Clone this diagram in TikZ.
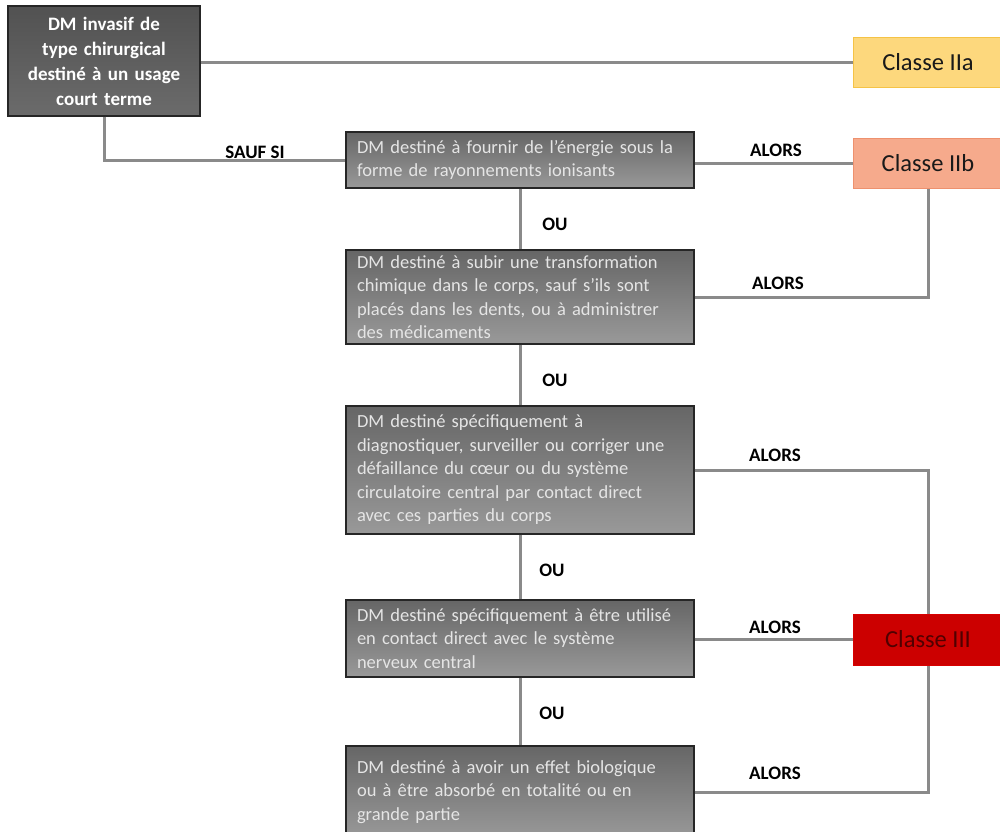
\documentclass[tikz,border=0pt]{standalone}
\usepackage{fontspec}
\setmainfont{Carlito}
\begin{document}
\begin{tikzpicture}[x=1pt,y=-1pt,
  dmbox/.style={draw=black!85,line width=1.3pt,top color=black!60,bottom color=black!40,
    text=white!90!black,font=\fontsize{18.5}{23.5}\selectfont,align=left,
    text width=326pt,inner xsep=11pt,inner ysep=0pt,minimum width=348pt},
  rootbox/.style={draw=black!85,line width=1.3pt,top color=black!68,bottom color=black!58,
    text=white,font=\bfseries\fontsize{19}{25}\selectfont,align=center,
    text width=186pt,inner sep=0pt,minimum width=192pt,minimum height=110pt},
  classbox/.style={line width=1pt,minimum width=150pt,minimum height=50pt,inner sep=0pt,
    font=\fontsize{24.5}{26}\selectfont},
  conn/.style={draw=black!46,line width=3pt},
  lbl/.style={font=\bfseries\fontsize{19}{22}\selectfont,text=black,inner sep=0pt}]
\clip (0,0) rectangle (1000,831);
\fill[white] (0,0) rectangle (1000,831);
\node[rootbox] (root) at (104,61) {DM invasif de\\type chirurgical\\destiné à un usage\\court terme};
\node[classbox,draw={rgb,255:red,245;green,195;blue,70},fill={rgb,255:red,253;green,216;blue,125},text=black!90] (c2a) at (928,62) {Classe IIa};
\node[classbox,draw={rgb,255:red,238;green,145;blue,110},fill={rgb,255:red,246;green,170;blue,140},text=black!90] (c2b) at (928,163) {Classe IIb};
\node[classbox,draw={rgb,255:red,215;green,0;blue,0},fill={rgb,255:red,204;green,0;blue,0},text={rgb,255:red,80;green,0;blue,0},minimum height=51pt] (c3) at (928,639.5) {Classe III};
\node[dmbox,minimum height=56pt] (b1) at (520,160) {DM destiné à fournir de l'énergie sous la\\forme de rayonnements ionisants};
\node[dmbox,minimum height=94pt] (b2) at (520,297) {DM destiné à subir une transformation\\chimique dans le corps, sauf s'ils sont\\placés dans les dents, ou à administrer\\des médicaments};
\node[dmbox,minimum height=128pt] (b3) at (520,470) {DM destiné spécifiquement à\\diagnostiquer, surveiller ou corriger une\\défaillance du cœur ou du système\\circulatoire central par contact direct\\avec ces parties du corps};
\node[dmbox,minimum height=77pt] (b4) at (520,638.5) {DM destiné spécifiquement à être utilisé\\en contact direct avec le système\\nerveux central};
\node[dmbox,minimum height=92pt] (b5) at (520,792) {DM destiné à avoir un effet biologique\\ou à être absorbé en totalité ou en\\grande partie};
\draw[conn] (root.east |- c2a.west) -- (c2a.west);
\draw[conn] (root.south) |- (b1.west);
\draw[conn] (b1.east |- c2b.west) -- (c2b.west);
\draw[conn] (b1.south) -- (b2.north);
\draw[conn] (b2.south) -- (b3.north);
\draw[conn] (b3.south) -- (b4.north);
\draw[conn] (b4.south) -- (b5.north);
\draw[conn] (b2.east) -| (c2b.south);
\draw[conn] (b3.east) -| (c3.north);
\draw[conn] (b4.east |- c3.west) -- (c3.west);
\draw[conn] (b5.east) -| (c3.south);
\node[lbl] (l0) at (255,152) {SAUF SI};
\node[lbl] (a1) at (776,150) {ALORS};
\node[lbl] (a2) at (778,283) {ALORS};
\node[lbl] (a3) at (775,455) {ALORS};
\node[lbl] (a4) at (775,627) {ALORS};
\node[lbl] (a5) at (775,773) {ALORS};
\node[lbl] (o1) at (555,224) {OU};
\node[lbl] (o2) at (555,380) {OU};
\node[lbl] (o3) at (552,570) {OU};
\node[lbl] (o4) at (552,713) {OU};
\end{tikzpicture}
\end{document}
